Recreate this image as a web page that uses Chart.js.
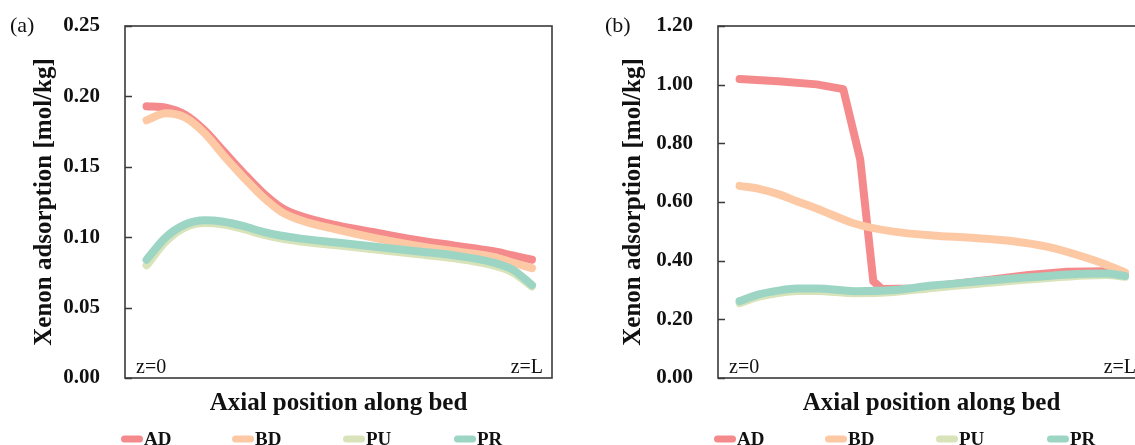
<!DOCTYPE html>
<html>
<head>
<meta charset="utf-8">
<script src="https://cdn.jsdelivr.net/npm/chart.js@4.4.0/dist/chart.umd.min.js"></script>
<style>
html, body { margin: 0; padding: 0; background: #fff; overflow: hidden; }
#wrap { position: relative; width: 1135px; height: 445px; overflow: hidden; }
canvas { position: absolute; top: 0; }
</style>
</head>
<body>
<div id="wrap">
  <canvas id="chartA" width="600" height="445" style="left:0"></canvas>
  <canvas id="chartB" width="600" height="445" style="left:600px"></canvas>
</div>
<script>
const seriesNames = ['AD', 'BD', 'PU', 'PR'];
const seriesColors = ['#f48a8b', '#fdc9a5', '#d9e3b9', '#9dd5c4'];

// (a) relative axial position 0 = z=0, 1 = z=L
const posA = [0, 0.05, 0.1, 0.15, 0.2, 0.25, 0.3, 0.35, 0.4, 0.5, 0.6, 0.7, 0.8, 0.9, 0.95, 1.0];
const adA = [0.193, 0.192, 0.187, 0.176, 0.161, 0.146, 0.132, 0.121, 0.115, 0.108, 0.103, 0.098, 0.094, 0.090, 0.087, 0.084];
const bdA = [0.183, 0.188, 0.185, 0.174, 0.158, 0.143, 0.129, 0.118, 0.112, 0.105, 0.099, 0.094, 0.090, 0.086, 0.082, 0.078];
const puA = [0.080, 0.097, 0.107, 0.110, 0.109, 0.106, 0.102, 0.099, 0.097, 0.094, 0.091, 0.088, 0.085, 0.080, 0.075, 0.065];
const prA = [0.084, 0.100, 0.109, 0.112, 0.111, 0.108, 0.104, 0.101, 0.099, 0.096, 0.093, 0.090, 0.087, 0.082, 0.077, 0.066];

// (b)
const posB = [0, 0.05, 0.1, 0.15, 0.2, 0.3, 0.4, 0.5, 0.6, 0.7, 0.8, 0.9, 0.95, 1.0];
const bdB = [0.655, 0.645, 0.627, 0.602, 0.578, 0.526, 0.499, 0.486, 0.478, 0.468, 0.447, 0.410, 0.387, 0.360];
const puB = [0.255, 0.277, 0.290, 0.297, 0.297, 0.289, 0.293, 0.307, 0.319, 0.331, 0.341, 0.349, 0.351, 0.345];
const prB = [0.262, 0.285, 0.298, 0.305, 0.305, 0.296, 0.300, 0.315, 0.327, 0.338, 0.348, 0.355, 0.356, 0.348];
const posAdB = [0, 0.1, 0.2, 0.269, 0.313, 0.347, 0.37, 0.45, 0.55, 0.65, 0.75, 0.85, 0.95, 1.0];
const adB = [1.019, 1.012, 1.001, 0.985, 0.745, 0.330, 0.303, 0.305, 0.320, 0.335, 0.351, 0.362, 0.364, 0.356];

const yTicksA = { min: 0, max: 0.25, step: 0.05 };
const yTicksB = { min: 0, max: 1.20, step: 0.2 };

const serif = '"Liberation Serif", "DejaVu Serif", serif';

function pts(xs, ys) {
    return xs.map((x, i) => ({ x: x, y: ys[i] }));
}

// frame, inner ticks, panel tag, z labels and line legend
const panelDecor = {
    id: 'panelDecor',
    afterDraw(chart, args, opts) {
        const { ctx, chartArea: a } = chart;
        const y = chart.scales.y;
        ctx.save();
        ctx.strokeStyle = '#3a3a3a';
        ctx.lineWidth = 1.6;
        ctx.strokeRect(a.left, a.top, a.right - a.left, a.bottom - a.top);
        ctx.beginPath();
        y.ticks.forEach((t, i) => {
            const py = Math.round(y.getPixelForTick(i)) + 0.5;
            ctx.moveTo(a.left, py);
            ctx.lineTo(a.left + 7, py);
        });
        ctx.stroke();

        ctx.fillStyle = '#111';
        ctx.font = '22px ' + serif;
        ctx.textBaseline = 'middle';
        ctx.textAlign = 'left';
        ctx.fillText(opts.tag, opts.tagX, a.top);

        ctx.font = '20px ' + serif;
        ctx.textBaseline = 'alphabetic';
        ctx.fillText('z=0', a.left + 11, a.bottom - 5);
        ctx.textAlign = 'right';
        ctx.fillText('z=L', a.right - 9, a.bottom - 5);

        // legend
        ctx.textAlign = 'left';
        ctx.textBaseline = 'middle';
        ctx.font = 'bold 19px ' + serif;
        ctx.lineCap = 'round';
        ctx.lineWidth = 7;
        chart.data.datasets.forEach((ds, i) => {
            const x = a.left - 4 + i * 111;
            ctx.strokeStyle = ds.borderColor;
            ctx.beginPath();
            ctx.moveTo(x + 3.5, 439);
            ctx.lineTo(x + 18.5, 439);
            ctx.stroke();
            ctx.fillStyle = '#111';
            ctx.fillText(ds.label, x + 23, 440);
        });
        ctx.restore();
    }
};

function makeChart(id, sets, yt, cfg) {
    const datasets = sets.map((d, i) => ({
        label: seriesNames[i],
        data: d,
        borderColor: seriesColors[i],
        backgroundColor: seriesColors[i],
        borderWidth: 8,
        borderCapStyle: 'round',
        borderJoinStyle: 'round',
        pointRadius: 0,
        cubicInterpolationMode: (cfg.straight === i) ? 'default' : 'monotone',
        tension: (cfg.straight === i) ? 0 : 0.4,
        order: 4 - i
    }));
    return new Chart(document.getElementById(id), {
        type: 'line',
        data: { datasets: datasets },
        plugins: [panelDecor],
        options: {
            responsive: false,
            animation: false,
            devicePixelRatio: 1,
            layout: { autoPadding: false, padding: { top: 26, right: cfg.padRight, left: 0, bottom: 0 } },
            plugins: {
                legend: { display: false },
                tooltip: { enabled: false },
                panelDecor: { tag: cfg.tag, tagX: cfg.tagX }
            },
            scales: {
                x: {
                    type: 'linear',
                    min: -0.056,
                    max: 1.052,
                    grid: { display: false },
                    border: { display: false },
                    ticks: { display: false },
                    title: {
                        display: true,
                        text: 'Axial position along bed',
                        color: '#111',
                        font: { family: serif, size: 25, weight: 'bold' },
                        padding: { top: 0, bottom: 26 }
                    },
                    afterFit: s => { s.height = 67; s.paddingLeft = 0; s.paddingRight = 0; }
                },
                y: {
                    min: yt.min,
                    max: yt.max,
                    grid: { display: false, drawTicks: false },
                    border: { display: false },
                    ticks: {
                        stepSize: yt.step,
                        padding: 25,
                        color: '#111',
                        font: { family: serif, size: 21, weight: 'bold' },
                        callback: v => v.toFixed(2)
                    },
                    title: {
                        display: true,
                        text: 'Xenon adsorption [mol/kg]',
                        color: '#111',
                        font: { family: serif, size: 25, weight: 'bold' },
                        padding: { top: cfg.titlePad, bottom: 0 }
                    },
                    afterFit: s => { s.width = cfg.yWidth; s.paddingTop = 0; s.paddingBottom = 0; }
                }
            }
        }
    });
}

makeChart('chartA',
    [pts(posA, adA), pts(posA, bdA), pts(posA, puA), pts(posA, prA)],
    yTicksA,
    { tag: '(a)', tagX: 10, yWidth: 125, titlePad: 30, padRight: 48, straight: -1 });

makeChart('chartB',
    [pts(posAdB, adB), pts(posB, bdB), pts(posB, puB), pts(posB, prB)],
    yTicksB,
    { tag: '(b)', tagX: 5, yWidth: 118, titlePad: 19, padRight: 55, straight: 0 });
</script>
</body>
</html>
